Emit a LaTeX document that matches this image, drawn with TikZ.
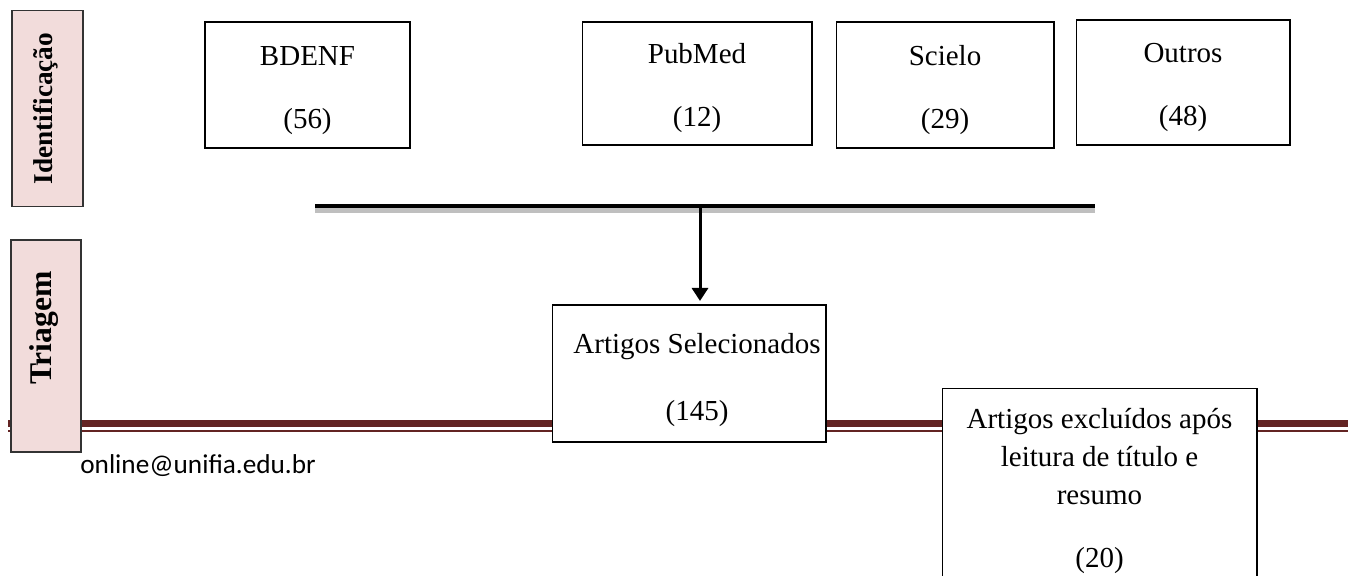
\documentclass[tikz,border=0pt]{standalone}
\usepackage{fontspec}
\setmainfont{Liberation Serif}
\newfontfamily\mailfont{Carlito}
\usetikzlibrary{arrows.meta}
\definecolor{phasepink}{HTML}{F2DCDB}
\definecolor{footred}{HTML}{632423}
\newcommand{\topgap}[1]{\rule{0pt}{#1}}
\tikzset{
  phase/.style={draw=black!80,line width=0.6pt,fill=phasepink,rotate=90,inner sep=0pt,
    font=\fontsize{15.5}{19}\selectfont\bfseries},
  srcbox/.style={draw,line width=0.6pt,fill=white,align=center,inner sep=0pt,
    font=\fontsize{16.5}{20}\selectfont},
}
\begin{document}
\begin{tikzpicture}[x=0.02cm,y=-0.02cm]
\useasboundingbox (0,0) rectangle (1348,575);
% footer of the page
\draw[footred,line width=4pt] (8,423.5) coordinate (footL) -- (1348,423.5) coordinate (footR);
\draw[footred,line width=1pt] (8,431) -- (1348,431);
\node[anchor=west,inner sep=0pt,font=\mailfont\fontsize{15.5}{18}\selectfont] (mail) at (80,466) {online@unifia.edu.br};
% phases
\node[phase,minimum width=3.92cm,minimum height=1.42cm,text height=0.42cm,text depth=0.2cm] (ident) at (47.5,108.5) {Identificação};
\node[phase,minimum width=4.24cm,minimum height=1.40cm,text height=0.42cm,text depth=0.2cm,
  font=\fontsize{18}{21}\selectfont\bfseries] (triag) at (46,346) {\hspace*{0.72cm}Triagem};
% databases
\foreach \n/\x/\y/\w/\h/\t/\c in {bdenf/307.5/85/4.10/2.52/BDENF/56, pubmed/697/83.5/4.60/2.46/PubMed/12,
  scielo/945/85/4.36/2.52/Scielo/29, outros/1183/82.5/4.28/2.50/Outros/48}
  \node[srcbox,minimum width=\w cm,minimum height=\h cm] (src-\n) at (\x,\y) {\topgap{17pt}\t\\[16pt](\c)};
% merge bar
\coordinate (barL) at (315,206);
\coordinate (barR) at (1095,206);
\coordinate (barM) at (700,206);
\draw[black!25,line width=2.5pt] ([yshift=-2.5pt]barL) -- ([yshift=-2.5pt]barR);
\draw[line width=2.8pt] (barL) -- (barR);
\node[srcbox,minimum width=5.48cm,minimum height=2.74cm] (sel) at (689,373.5)
  {\hspace*{0.32cm}\topgap{19pt}Artigos Selecionados\\[18pt]\hspace*{0.32cm}(145)};
\draw[line width=1.7pt,-{Triangle[width=0.32cm,length=0.26cm]},shorten >=2pt] (barM) -- (barM |- sel.north);
\node[srcbox,anchor=north,minimum width=6.3cm,minimum height=3.9cm,
  font=\fontsize{16.5}{21.5}\selectfont] (excl) at (1099.5,388)
  {\topgap{17pt}Artigos excluídos após\\leitura de título e\\resumo\\[14.5pt](20)};
\end{tikzpicture}
\end{document}
